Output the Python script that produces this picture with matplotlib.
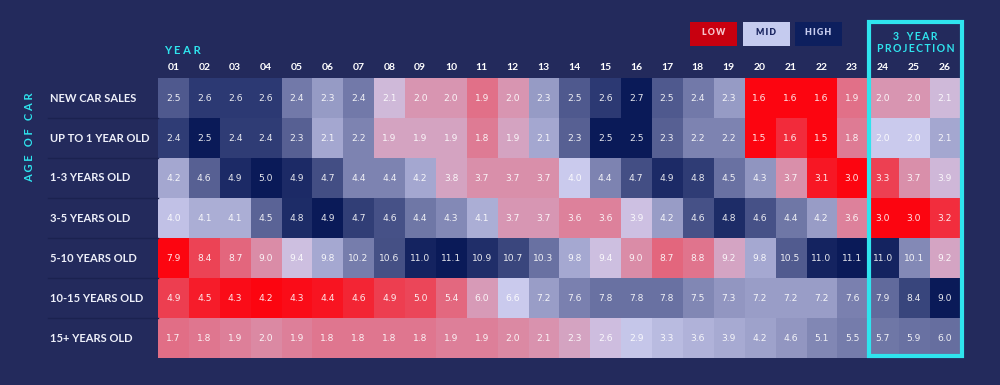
import matplotlib.pyplot as plt
import numpy as np
from matplotlib.colors import LinearSegmentedColormap, TwoSlopeNorm
from matplotlib.patches import Rectangle
from matplotlib.lines import Line2D

# Data
years = ['01', '02', '03', '04', '05', '06', '07', '08', '09', '10', '11', '12', '13',
         '14', '15', '16', '17', '18', '19', '20', '21', '22', '23', '24', '25', '26']
age_groups = ['NEW CAR SALES', 'UP TO 1 YEAR OLD', '1-3 YEARS OLD', '3-5 YEARS OLD',
              '5-10 YEARS OLD', '10-15 YEARS OLD', '15+ YEARS OLD']

new_car_sales = [2.5, 2.6, 2.6, 2.6, 2.4, 2.3, 2.4, 2.1, 2.0, 2.0, 1.9, 2.0, 2.3,
                 2.5, 2.6, 2.7, 2.5, 2.4, 2.3, 1.6, 1.6, 1.6, 1.9, 2.0, 2.0, 2.1]
up_to_1 = [2.4, 2.5, 2.4, 2.4, 2.3, 2.1, 2.2, 1.9, 1.9, 1.9, 1.8, 1.9, 2.1,
           2.3, 2.5, 2.5, 2.3, 2.2, 2.2, 1.5, 1.6, 1.5, 1.8, 2.0, 2.0, 2.1]
years_1_3 = [4.2, 4.6, 4.9, 5.0, 4.9, 4.7, 4.4, 4.4, 4.2, 3.8, 3.7, 3.7, 3.7,
             4.0, 4.4, 4.7, 4.9, 4.8, 4.5, 4.3, 3.7, 3.1, 3.0, 3.3, 3.7, 3.9]
years_3_5 = [4.0, 4.1, 4.1, 4.5, 4.8, 4.9, 4.7, 4.6, 4.4, 4.3, 4.1, 3.7, 3.7,
             3.6, 3.6, 3.9, 4.2, 4.6, 4.8, 4.6, 4.4, 4.2, 3.6, 3.0, 3.0, 3.2]
years_5_10 = [7.9, 8.4, 8.7, 9.0, 9.4, 9.8, 10.2, 10.6, 11.0, 11.1, 10.9, 10.7, 10.3,
              9.8, 9.4, 9.0, 8.7, 8.8, 9.2, 9.8, 10.5, 11.0, 11.1, 11.0, 10.1, 9.2]
years_10_15 = [4.9, 4.5, 4.3, 4.2, 4.3, 4.4, 4.6, 4.9, 5.0, 5.4, 6.0, 6.6, 7.2,
               7.6, 7.8, 7.8, 7.8, 7.5, 7.3, 7.2, 7.2, 7.2, 7.6, 7.9, 8.4, 9.0]
years_15_plus = [1.7, 1.8, 1.9, 2.0, 1.9, 1.8, 1.8, 1.8, 1.8, 1.9, 1.9, 2.0, 2.1,
                 2.3, 2.6, 2.9, 3.3, 3.6, 3.9, 4.2, 4.6, 5.1, 5.5, 5.7, 5.9, 6.0]

values = np.array([new_car_sales, up_to_1, years_1_3, years_3_5,
                   years_5_10, years_10_15, years_15_plus])
n_rows, n_cols = values.shape

BG = '#232a5c'
CYAN = '#2fe4ee'
cmap = LinearSegmentedColormap.from_list('lowmidhigh', ['#fc0510', '#cbcbee', '#0a1a58'])

W, H = 1000, 385
fig = plt.figure(figsize=(W / 100, H / 100), dpi=100, facecolor=BG)


def fx(px):
    return px / W


def fy(py):
    return 1 - py / H


def spaced(s):
    # crude letter spacing with thin spaces
    return '\u2009'.join(s).replace('\u2009 \u2009', '   ')


# colours are scaled row by row; the last row uses a softer scale in the original
rgb = np.zeros((n_rows, n_cols, 4))
for i, row in enumerate(values):
    if i == n_rows - 1:
        norm = TwoSlopeNorm(vmin=0.5, vcenter=2.75, vmax=9.0)
    else:
        lo, hi = row.min(), row.max()
        norm = TwoSlopeNorm(vmin=lo, vcenter=(lo + hi) / 2, vmax=hi)
    rgb[i] = cmap(norm(row))

left, right, top, bottom = 158, 960, 78, 358
ax = fig.add_axes([fx(left), fy(bottom), fx(right - left), (bottom - top) / H])
ax.imshow(rgb, aspect='auto', interpolation='nearest',
          extent=(-0.5, n_cols - 0.5, n_rows - 0.5, -0.5))
ax.set_axis_off()

for i in range(n_rows):
    for j in range(n_cols):
        ax.text(j, i + 0.02, f'{values[i, j]:.1f}', ha='center', va='center',
                fontsize=6.6, color='white', alpha=0.9, family='DejaVu Sans')

# column labels
for j, yr in enumerate(years):
    ax.text(j, -0.5 - 0.15, yr, ha='center', va='bottom', fontsize=7.5,
            fontweight='bold', color='white', family='Lato')

# row labels and faint separators
row_h = (bottom - top) / n_rows
for i, lab in enumerate(age_groups):
    cy = top + row_h * (i + 0.5)
    fig.text(fx(50), fy(cy), lab, ha='left', va='center', fontsize=8,
             fontweight='bold', color='#eef0fa', family='Lato')
    if i > 0:
        yb = top + row_h * i
        fig.add_artist(Line2D([fx(48), fx(left)], [fy(yb), fy(yb)],
                              color='#1b2250', lw=1))

fig.text(fx(164), fy(50), 'Y E A R', ha='left', va='center', fontsize=8,
         fontweight='bold', color=CYAN, family='Lato')
fig.text(fx(30), fy(137), 'A G E   O F   C A R', ha='center', va='center',
         rotation=90, fontsize=8, fontweight='bold', color=CYAN, family='Lato')

# legend boxes
legend = [('LOW', '#c8000f', '#f6c4cc', 690), ('MID', '#c5cbef', '#1a2560', 743),
          ('HIGH', '#0d1f5e', '#c8cdf0', 795)]
for name, fc, tc, x0 in legend:
    fig.add_artist(Rectangle((fx(x0), fy(46)), fx(47), 24 / H, facecolor=fc,
                             edgecolor='none'))
    fig.text(fx(x0 + 23.5), fy(32.5), spaced(name), ha='center', va='center',
             fontsize=6.3, fontweight='heavy', color=tc, family='Lato')

# projection box
fig.add_artist(Rectangle((fx(869), fy(356)), fx(962 - 869), (356 - 22) / H,
                         facecolor='none', edgecolor=CYAN, lw=3))
fig.text(fx(915.5), fy(36), spaced('3 YEAR'), ha='center', va='center', fontsize=7.6,
         fontweight='bold', color=CYAN, family='Lato')
fig.text(fx(915.5), fy(48.5), spaced('PROJECTION'), ha='center', va='center',
         fontsize=7.6, fontweight='bold', color=CYAN, family='Lato')

fig.savefig('out.png', dpi=100, facecolor=BG)
